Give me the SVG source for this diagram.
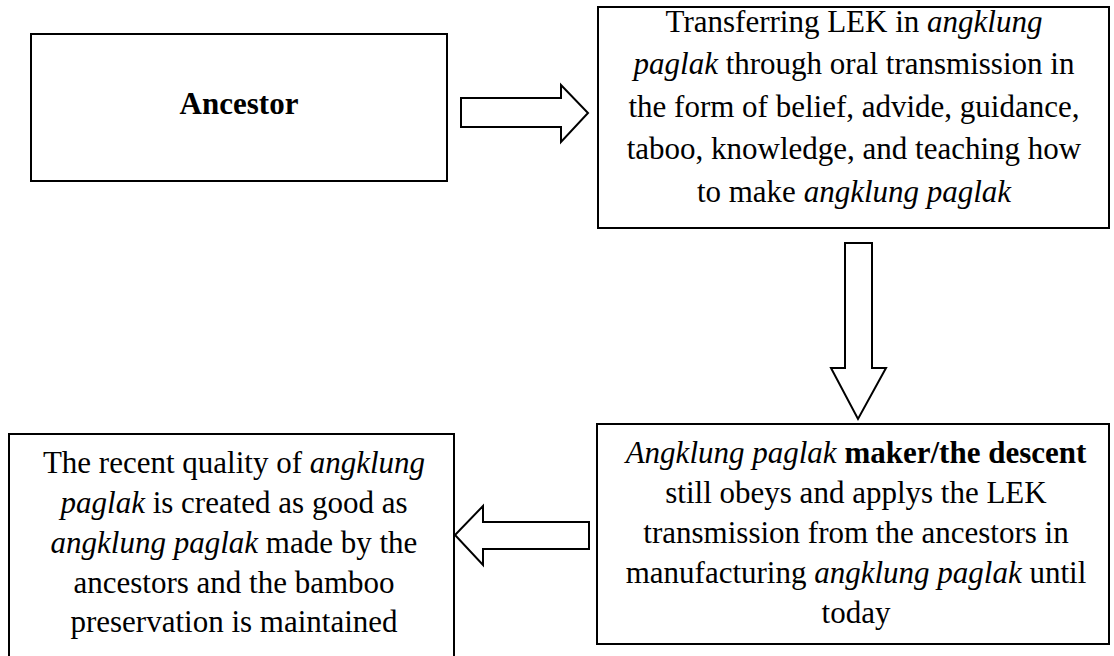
<svg xmlns="http://www.w3.org/2000/svg" width="1114" height="656" viewBox="0 0 1114 656">
<style>
.box{fill:#fff;stroke:#000;stroke-width:2}
.arrow{fill:#fff;stroke:#000;stroke-width:2;stroke-linejoin:miter}
text{font-family:"Liberation Serif","Times New Roman",serif;font-size:31px;fill:#000;text-anchor:middle}
.i{font-style:italic}
.b{font-weight:bold}
</style>
<rect width="1114" height="656" fill="#fff"/>
<g id="connectors">
<polygon class="arrow" points="461,98 561,98 561,85 588,113 561,142 561,127 461,127"/>
<polygon class="arrow" points="845,243 872,243 872,368 886,368 858,419 831,368 845,368"/>
<polygon class="arrow" points="589,522 483,522 483,506 455,535 483,565 483,549 589,549"/>
</g>
<g id="ancestor">
<rect class="box" x="31" y="34" width="416" height="147"/>
<text x="239" y="114" class="b">Ancestor</text>
</g>
<g id="transferring">
<rect class="box" x="598" y="7" width="511" height="221"/>
<text x="854" y="32">Transferring LEK in <tspan class="i">angklung</tspan></text>
<text x="854" y="74"><tspan class="i">paglak</tspan> through oral transmission in</text>
<text x="854" y="117">the form of belief, advide, guidance,</text>
<text x="854" y="159">taboo, knowledge, and teaching how</text>
<text x="854" y="202">to make <tspan class="i">angklung paglak</tspan></text>
</g>
<g id="maker">
<rect class="box" x="597" y="424" width="512" height="220"/>
<text x="856" y="463"><tspan class="i">Angklung paglak</tspan> <tspan class="b">maker/the descent</tspan></text>
<text x="856" y="503">still obeys and applys the LEK</text>
<text x="856" y="543">transmission from the ancestors in</text>
<text x="856" y="583">manufacturing <tspan class="i">angklung paglak</tspan> until</text>
<text x="856" y="623">today</text>
</g>
<g id="quality">
<rect class="box" x="9" y="434" width="445" height="230"/>
<text x="234" y="473">The recent quality of <tspan class="i">angklung</tspan></text>
<text x="234" y="513"><tspan class="i">paglak</tspan> is created as good as</text>
<text x="234" y="553"><tspan class="i">angklung paglak</tspan> made by the</text>
<text x="234" y="593">ancestors and the bamboo</text>
<text x="234" y="632">preservation is maintained</text>
</g>
</svg>
